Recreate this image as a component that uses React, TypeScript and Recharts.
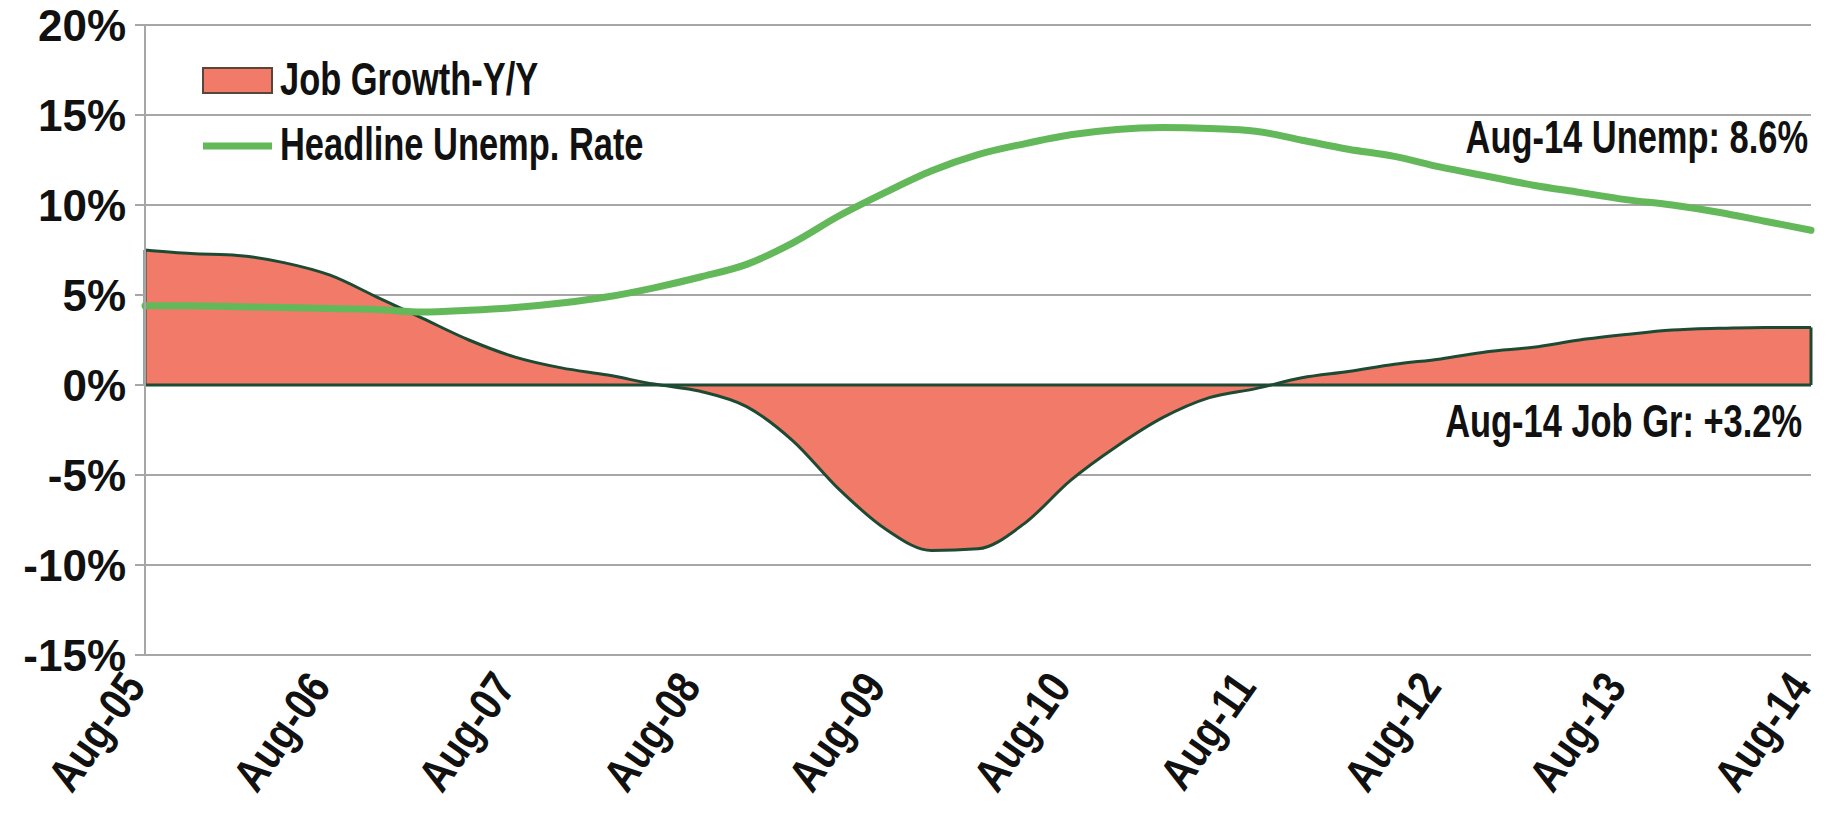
import React from "react"
import {
  ComposedChart,
  Area,
  Line,
  XAxis,
  YAxis,
  CartesianGrid,
  ReferenceLine,
  Legend,
} from "recharts"

const MONTHS = [
  "Aug-05", "Nov-05", "Feb-06", "May-06", "Aug-06", "Nov-06", "Feb-07", "May-07",
  "Aug-07", "Nov-07", "Feb-08", "May-08", "Aug-08", "Nov-08", "Feb-09", "May-09",
  "Aug-09", "Nov-09", "Feb-10", "May-10", "Aug-10", "Nov-10", "Feb-11", "May-11",
  "Aug-11", "Nov-11", "Feb-12", "May-12", "Aug-12", "Nov-12", "Feb-13", "May-13",
  "Aug-13", "Nov-13", "Feb-14", "May-14", "Aug-14",
]

// year over year job growth, %
const JOB_GROWTH = [
  7.5, 7.3, 7.2, 6.8, 6.1, 4.9, 3.7, 2.5, 1.55, 0.95, 0.55, 0.05, -0.35, -1.2, -3.1,
  -5.8, -8.0, -9.2, -9.1, -7.7, -5.3, -3.4, -1.8, -0.7, -0.2, 0.4, 0.75, 1.15,
  1.45, 1.85, 2.1, 2.5, 2.8, 3.05, 3.15, 3.2, 3.2,
]

// headline unemployment rate, %
const UNEMP_RATE = [
  4.4, 4.4, 4.35, 4.3, 4.25, 4.2, 4.05, 4.15, 4.3, 4.55, 4.9, 5.4, 6.0, 6.7, 7.9,
  9.4, 10.7, 11.9, 12.8, 13.4, 13.9, 14.2, 14.3, 14.25, 14.1, 13.6, 13.1, 12.7,
  12.1, 11.6, 11.1, 10.7, 10.3, 10.0, 9.6, 9.1, 8.6,
]

const Y_TICKS = [-15, -10, -5, 0, 5, 10, 15, 20]

const SERIES_NAMES = ["Job Growth-Y/Y", "Headline Unemp. Rate"]
const NOTES = ["Aug-14 Unemp: 8.6%", "Aug-14 Job Gr: +3.2%"]

const FILL = "#f27a68"
const EDGE = "#1d4a33"
const GREEN = "#63b95a"
const GRID = "#a6a6a6"
const FONT = "'Liberation Sans', Arial, sans-serif"
const NARROW = "scale(0.82,1.1)"

const data = MONTHS.map((month, i) => ({
  month,
  job: JOB_GROWTH[i],
  unemp: UNEMP_RATE[i],
}))

const firstMonth = MONTHS[0]
const lastMonth = MONTHS[MONTHS.length - 1]

function YTick(props: any) {
  const { x, y, payload } = props
  return (
    <text
      x={x}
      y={y}
      textAnchor="end"
      dy="0.36em"
      fontSize={44}
      fontWeight="bold"
      fontFamily={FONT}
      fill="#111"
    >
      {payload.value}%
    </text>
  )
}

function XTick(props: any) {
  const { x, y, payload } = props
  return (
    <g transform={`translate(${x + 2},${y + 32}) rotate(-55)`}>
      <text
        transform="scale(0.88,1.05)"
        textAnchor="end"
        fontSize={44}
        fontWeight="bold"
        fontFamily={FONT}
        fill="#111"
      >
        {payload.value}
      </text>
    </g>
  )
}

function LegendBox() {
  const textProps = {
    fontSize: 42,
    fontWeight: "bold" as const,
    fontFamily: FONT,
    fill: "#111",
  }
  return (
    <svg width={480} height={130} style={{ display: "block" }}>
      <rect x={3} y={18} width={69} height={25} fill={FILL} stroke="#5a4638" strokeWidth={2} />
      <g transform="translate(80,45)">
        <text transform={NARROW} {...textProps}>{SERIES_NAMES[0]}</text>
      </g>
      <line x1={3} x2={72} y1={96} y2={96} stroke={GREEN} strokeWidth={7} />
      <g transform="translate(80,110)">
        <text transform={NARROW} {...textProps}>{SERIES_NAMES[1]}</text>
      </g>
    </svg>
  )
}

export default function App() {
  const noteProps = {
    fontSize: 42,
    fontWeight: "bold" as const,
    fontFamily: FONT,
    fill: "#111",
    textAnchor: "end" as const,
  }
  return (
    <div
      style={{
        position: "absolute",
        left: 0,
        top: 0,
        width: 1833,
        height: 820,
        background: "#fff",
      }}
    >
      <ComposedChart
        width={1833}
        height={820}
        data={data}
        margin={{ top: 25, right: 22, left: 0, bottom: 0 }}
      >
        <CartesianGrid vertical={false} stroke={GRID} strokeWidth={2} />
        <XAxis
          dataKey="month"
          interval={3}
          height={165}
          axisLine={false}
          tickLine={false}
          tickSize={0}
          tickMargin={0}
          tick={<XTick />}
        />
        <YAxis
          domain={[-15, 20]}
          ticks={Y_TICKS}
          width={145}
          axisLine={{ stroke: GRID, strokeWidth: 2 }}
          tickLine={{ stroke: GRID, strokeWidth: 2 }}
          tickSize={10}
          tickMargin={9}
          tick={<YTick />}
        />
        <Legend
          layout="vertical"
          align="center"
          verticalAlign="middle"
          wrapperStyle={{ left: 200, top: 50, width: 480 }}
          content={() => <LegendBox />}
        />
        <Area
          type="monotone"
          dataKey="job"
          name={SERIES_NAMES[0]}
          baseValue={0}
          fill={FILL}
          fillOpacity={1}
          stroke={EDGE}
          strokeWidth={3}
          isAnimationActive={false}
        />
        <ReferenceLine y={0} stroke={EDGE} strokeWidth={3} />
        <ReferenceLine
          segment={[
            { x: firstMonth, y: 0 },
            { x: firstMonth, y: JOB_GROWTH[0] },
          ]}
          stroke={EDGE}
          strokeWidth={3}
        />
        <ReferenceLine
          segment={[
            { x: lastMonth, y: 0 },
            { x: lastMonth, y: JOB_GROWTH[JOB_GROWTH.length - 1] },
          ]}
          stroke={EDGE}
          strokeWidth={3}
        />
        <Line
          type="monotone"
          dataKey="unemp"
          name={SERIES_NAMES[1]}
          stroke={GREEN}
          strokeWidth={7}
          strokeLinecap="round"
          dot={false}
          isAnimationActive={false}
        />
      </ComposedChart>
      <svg
        width={1833}
        height={820}
        style={{ position: "absolute", left: 0, top: 0, pointerEvents: "none" }}
      >
        <g transform="translate(1808,153)">
          <text transform={NARROW} {...noteProps}>{NOTES[0]}</text>
        </g>
        <g transform="translate(1802,437)">
          <text transform={NARROW} {...noteProps}>{NOTES[1]}</text>
        </g>
      </svg>
    </div>
  )
}
